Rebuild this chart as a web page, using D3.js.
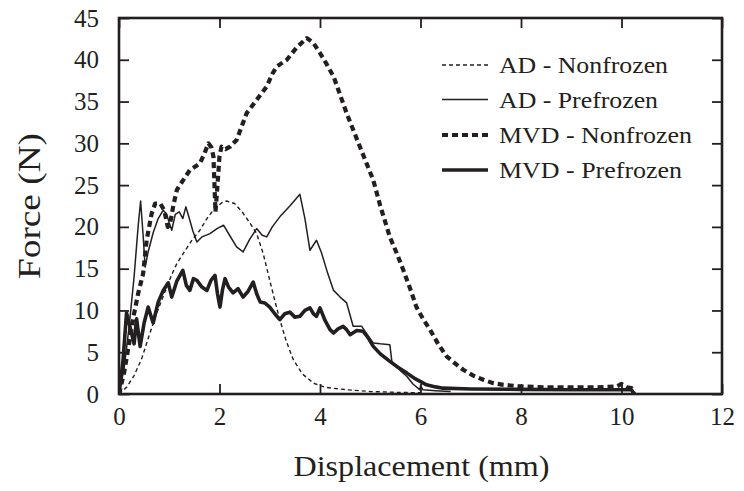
<!DOCTYPE html>
<html>
<head>
<meta charset="utf-8">
<script src="https://cdn.jsdelivr.net/npm/d3@7"></script>
<style>
  html, body { margin: 0; padding: 0; background: #fff; }
  svg { display: block; }
</style>
</head>
<body>
<svg id="chart" width="744" height="491"></svg>
<script>
// ---- data ----
const xTicks = [0, 2, 4, 6, 8, 10, 12];
const yTicks = [0, 5, 10, 15, 20, 25, 30, 35, 40, 45];
const seriesNames = ["AD - Nonfrozen", "AD - Prefrozen", "MVD - Nonfrozen", "MVD - Prefrozen"];

const adNonfrozen = [
  [0,0],[0.15,0.8],[0.3,2.2],[0.45,4.2],[0.6,7],[0.75,9.7],[0.9,12],[1.05,14.3],[1.15,15.6],
  [1.3,17],[1.45,18.4],[1.61,19.6],[1.75,21],[1.9,22.2],[2.05,22.9],[2.14,23.1],[2.3,22.8],
  [2.45,21.8],[2.6,20.5],[2.74,19.2],[2.87,16.8],[3.0,13.6],[3.1,11.2],[3.2,8.9],[3.33,6.3],
  [3.47,4.1],[3.65,2.4],[3.87,1.3],[4.1,0.8],[4.54,0.5],[5.0,0.3],[5.5,0.2],[6.0,0.15]
];
const adPrefrozen = [
  [0,0],[0.1,3],[0.2,8],[0.3,14],[0.38,20],[0.43,23.1],[0.48,19],[0.52,15.2],[0.58,17],
  [0.68,19.3],[0.78,21],[0.88,22],[0.95,21.5],[1.0,20.5],[1.05,19.6],[1.12,21.5],[1.2,21.8],
  [1.27,21.0],[1.33,22.4],[1.4,21],[1.47,19.5],[1.55,18.2],[1.65,18.8],[1.81,19.2],[1.95,19.8],
  [2.08,20.2],[2.2,19.0],[2.34,17.6],[2.47,17.0],[2.6,18.5],[2.74,19.8],[2.85,19.0],[2.94,18.8],
  [3.05,20.0],[3.2,21.2],[3.4,22.5],[3.6,23.9],[3.7,21],[3.8,17.2],[3.93,18.4],[4.03,16.9],
  [4.15,14.5],[4.27,12.4],[4.4,11.6],[4.53,10.9],[4.66,8.1],[4.83,8.1],[4.95,7],[5.06,6.1],
  [5.2,6.0],[5.39,5.9],[5.43,3.9],[5.6,2.8],[5.73,2.1],[5.85,1.2],[5.99,0.5],[6.0,1.0],
  [6.05,0.5],[6.3,0.4],[6.6,0.3]
];
const mvdNonfrozen = [
  [0,0],[0.1,2.5],[0.2,6],[0.29,9.3],[0.38,12],[0.48,14.4],[0.55,18.4],[0.65,21.6],[0.72,22.8],
  [0.82,22.8],[0.9,22],[0.97,20],[1.02,20.5],[1.08,22.5],[1.15,24.4],[1.21,25.0],[1.3,25.8],
  [1.41,26.8],[1.51,27.2],[1.61,27.6],[1.7,28.8],[1.78,30.0],[1.84,29.5],[1.88,28.4],[1.9,25],
  [1.92,21.8],[1.96,25],[2.0,28.5],[2.04,29.6],[2.12,29.3],[2.21,29.6],[2.34,30.4],[2.44,32],
  [2.54,33.6],[2.74,35.2],[2.94,36.8],[3.05,38.3],[3.14,39.2],[3.34,40.0],[3.54,41.5],[3.74,42.6],
  [3.87,42],[4.0,40.8],[4.13,39.5],[4.27,38.0],[4.4,35.8],[4.53,33.6],[4.8,29.5],[5.06,25.6],
  [5.2,22.5],[5.39,18.8],[5.53,16.8],[5.66,14.8],[5.8,12.5],[5.92,10.4],[6.05,9],[6.19,7.7],
  [6.35,6],[6.52,4.5],[6.7,3.6],[6.85,2.9],[7.05,2.2],[7.25,1.7],[7.45,1.3],[7.65,1.1],[8,0.9],
  [8.5,0.8],[9,0.8],[9.5,0.8],[9.9,0.9],[10.0,1.2],[10.1,0.8],[10.2,0.7],[10.25,0]
];
const mvdPrefrozen = [
  [0,0],[0.08,4],[0.15,9.7],[0.22,8],[0.3,6],[0.35,9],[0.42,5.7],[0.5,8.5],[0.58,10.4],[0.68,8.5],
  [0.78,11],[0.88,12.4],[0.98,13.3],[1.05,11.6],[1.15,13.5],[1.27,14.8],[1.34,13],[1.41,12.4],
  [1.48,13.8],[1.55,13.6],[1.65,12.8],[1.75,12.4],[1.83,13.6],[1.91,14.2],[1.96,12],[2.01,10.4],
  [2.06,12.5],[2.11,13.8],[2.18,12.8],[2.27,12.1],[2.37,12.6],[2.47,11.6],[2.57,12.3],[2.67,13.4],
  [2.74,12],[2.81,11.0],[2.9,10.9],[3.0,10.4],[3.1,9.6],[3.2,8.9],[3.3,9.6],[3.4,9.8],[3.5,9.2],
  [3.6,9.3],[3.7,10.0],[3.8,10.3],[3.87,9.6],[3.93,9.3],[4.0,10.3],[4.1,8.8],[4.2,7.7],[4.27,7.3],
  [4.36,7.8],[4.46,8.1],[4.53,7.7],[4.6,7.1],[4.73,7.6],[4.86,7.5],[4.95,6.8],[5.06,5.7],[5.2,4.8],
  [5.39,3.9],[5.55,3.2],[5.73,2.5],[5.9,1.8],[6.12,1.1],[6.3,0.85],[6.45,0.7],[7,0.6],[8,0.55],
  [9,0.5],[10,0.5],[10.2,0.5],[10.25,0]
];

// ---- layout ----
const margin = { left: 119, top: 18, right: 22, bottom: 97 };
const W = 744, H = 491;
const iw = W - margin.left - margin.right;   // 603
const ih = H - margin.top - margin.bottom;   // 376

const svg = d3.select("#chart");
const g = svg.append("g").attr("transform", `translate(${margin.left},${margin.top})`);

const x = d3.scaleLinear().domain([0, 12]).range([0, iw]);
const y = d3.scaleLinear().domain([0, 45]).range([ih, 0]);

const ink = "#231f20";
const serif = '"Liberation Serif", "Times New Roman", Tinos, serif';
const tickLen = 10;

function styleAxis(sel, labels) {
  sel.attr("font-family", serif);
  sel.select(".domain").remove();
  sel.selectAll(".tick line").attr("stroke", ink).attr("stroke-width", 1.8);
  if (!labels) sel.selectAll(".tick text").remove();
  else sel.selectAll(".tick text").attr("font-size", 25).attr("fill", ink)
          .attr("font-family", serif);
}

g.append("g").attr("transform", `translate(0,${ih})`)
  .call(d3.axisBottom(x).tickValues(xTicks).tickSize(-tickLen).tickPadding(13).tickFormat(d3.format("d")))
  .call(s => styleAxis(s, true));
g.append("g")
  .call(d3.axisTop(x).tickValues(xTicks).tickSize(-tickLen))
  .call(s => styleAxis(s, false));
g.append("g")
  .call(d3.axisLeft(y).tickValues(yTicks).tickSize(-tickLen).tickPadding(20).tickFormat(d3.format("d")))
  .call(s => styleAxis(s, true));
g.append("g").attr("transform", `translate(${iw},0)`)
  .call(d3.axisRight(y).tickValues(yTicks).tickSize(-tickLen))
  .call(s => styleAxis(s, false));

// frame
g.append("rect").attr("x", 0).attr("y", 0).attr("width", iw).attr("height", ih)
  .attr("fill", "none").attr("stroke", ink).attr("stroke-width", 2.6);

// ---- series ----
const styles = [
  { data: adNonfrozen,  width: 1.4, dash: "4,3" },
  { data: adPrefrozen,  width: 1.5, dash: null },
  { data: mvdNonfrozen, width: 4.2, dash: "6,4" },
  { data: mvdPrefrozen, width: 3.6, dash: null }
];
const line = d3.line().x(d => x(d[0])).y(d => y(d[1]));
g.append("clipPath").attr("id", "clip").append("rect")
  .attr("width", iw).attr("height", ih);
styles.forEach(s => {
  g.append("path").datum(s.data)
    .attr("d", line)
    .attr("fill", "none")
    .attr("stroke", ink)
    .attr("stroke-width", s.width)
    .attr("stroke-linejoin", "round")
    .attr("stroke-dasharray", s.dash)
    .attr("clip-path", "url(#clip)");
});

// ---- legend ----
const legendWidths = [169, 159, 193, 183];
const legendRowY = [65, 99.5, 135, 170];
const leg = svg.append("g");
seriesNames.forEach((name, i) => {
  const yy = legendRowY[i];
  leg.append("line").attr("x1", 442).attr("x2", 488).attr("y1", yy).attr("y2", yy)
    .attr("stroke", ink).attr("stroke-width", styles[i].width)
    .attr("stroke-dasharray", styles[i].dash);
  leg.append("text").attr("x", 499).attr("y", yy + 8)
    .attr("font-size", 24).attr("font-family", serif).attr("fill", ink)
    .attr("textLength", legendWidths[i]).attr("lengthAdjust", "spacingAndGlyphs")
    .text(name);
});

// ---- axis titles ----
svg.append("text")
  .attr("x", margin.left + iw / 2 + 1).attr("y", 476)
  .attr("text-anchor", "middle").attr("font-size", 30)
  .attr("font-family", serif).attr("fill", ink)
  .attr("textLength", 256).attr("lengthAdjust", "spacingAndGlyphs")
  .text("Displacement (mm)");
svg.append("text")
  .attr("transform", `translate(40,${margin.top + ih / 2}) rotate(-90)`)
  .attr("text-anchor", "middle").attr("font-size", 31)
  .attr("font-family", serif).attr("fill", ink)
  .attr("textLength", 146).attr("lengthAdjust", "spacingAndGlyphs")
  .text("Force (N)");
</script>
</body>
</html>
